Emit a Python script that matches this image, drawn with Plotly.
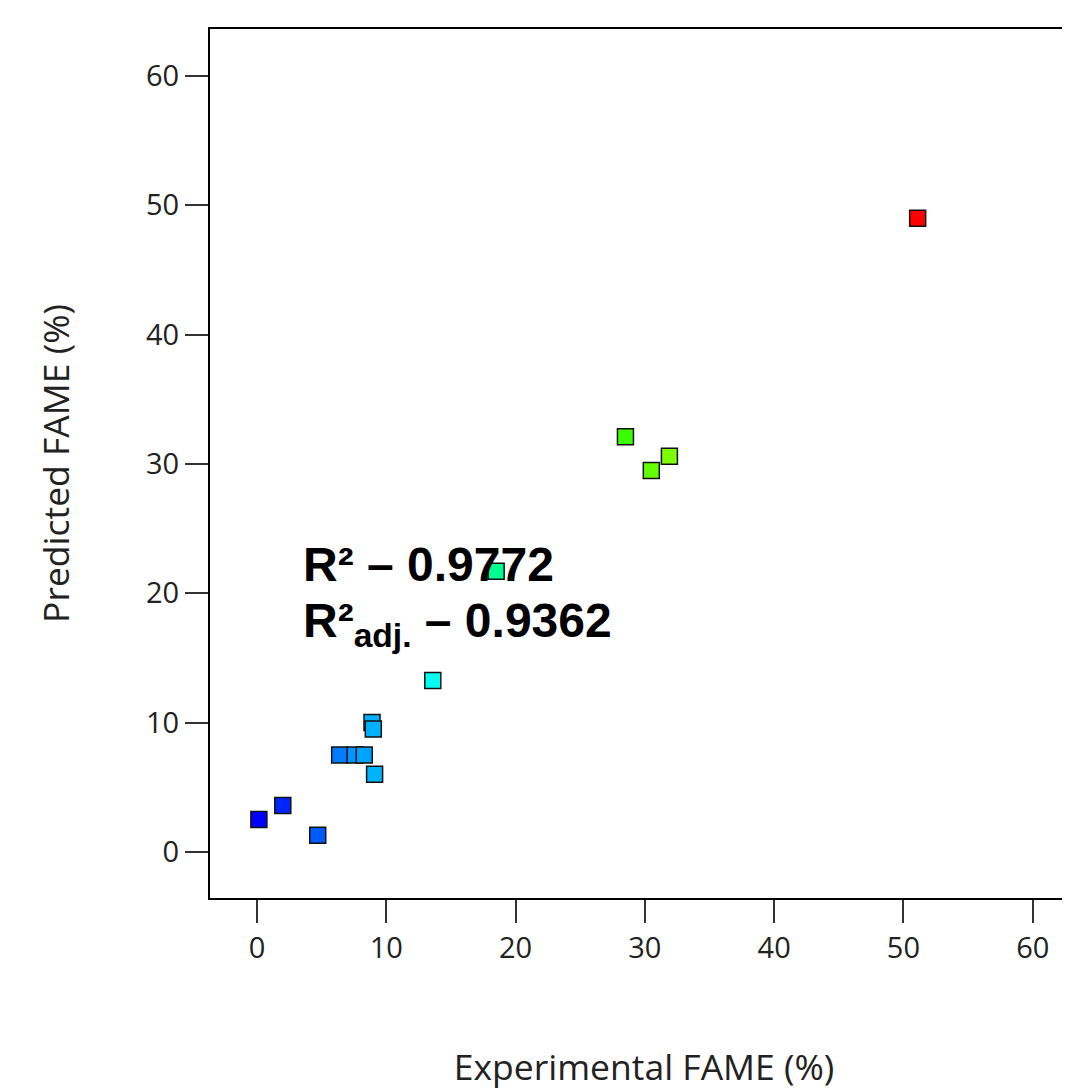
import plotly.graph_objects as go

# Data
experimental = [0.15, 2.0, 4.7, 6.4, 7.6, 8.3, 8.9, 9.0, 9.1, 13.6, 18.5, 28.5, 30.5, 31.9, 51.1]
predicted    = [2.5, 3.6, 1.3, 7.5, 7.5, 7.5, 10.0, 9.5, 6.0, 13.25, 21.7, 32.1, 29.5, 30.6, 49.0]

tick_vals = [0, 10, 20, 30, 40, 50, 60]
tick_text = ["0", "10", "20", "30", "40", "50", "60"]

r2_text = "<b>R² – 0.9772</b>"
r2adj_text = "<b>R²<sub>adj.</sub> – 0.9362</b>"

x_title = "Experimental FAME (%)"
y_title = "Predicted FAME (%)"

fig = go.Figure()
fig.add_trace(go.Scatter(
    x=experimental, y=predicted, mode="markers",
    marker=dict(
        symbol="square", size=16,
        color=experimental,
        colorscale=[[0, "rgb(0,0,255)"], [0.25, "rgb(0,255,255)"], [0.5, "rgb(0,255,0)"],
                    [0.75, "rgb(255,255,0)"], [1, "rgb(255,0,0)"]],
        cmin=min(experimental), cmax=max(experimental),
        line=dict(color="#111", width=1.5),
    ),
    showlegend=False, hoverinfo="x+y",
))

font_family = "Open Sans, Noto Sans, sans-serif"
ann_font = dict(family="Liberation Sans, Arial, sans-serif", size=48, color="black")

fig.add_annotation(x=3.4, y=22.25, xref="x", yref="y", text=r2_text, showarrow=False,
                   xanchor="left", yanchor="middle", font=ann_font)
fig.add_annotation(x=3.4, y=17.6, xref="x", yref="y", text=r2adj_text, showarrow=False,
                   xanchor="left", yanchor="middle", font=ann_font)

axis_common = dict(
    showgrid=False, zeroline=False,
    showline=True, linecolor="black", linewidth=2,
    ticks="outside", ticklen=23, tickwidth=2, tickcolor="#333",
    tickvals=tick_vals, ticktext=tick_text,
    tickfont=dict(family=font_family, size=29, color="#222"),
)

fig.update_layout(
    width=1070, height=1089,
    margin=dict(l=202, r=0, t=21, b=199),
    plot_bgcolor="white", paper_bgcolor="white",
    xaxis=dict(range=[-3.63, 63.5], mirror=True,
               title=dict(text=x_title, standoff=90,
                          font=dict(family=font_family, size=35.5, color="#222")),
               **axis_common),
    yaxis=dict(range=[-3.56, 63.63], mirror=False,
               title=dict(text=y_title, standoff=66,
                          font=dict(family=font_family, size=35.5, color="#222")),
               **axis_common),
)

fig.write_html("out.html")
